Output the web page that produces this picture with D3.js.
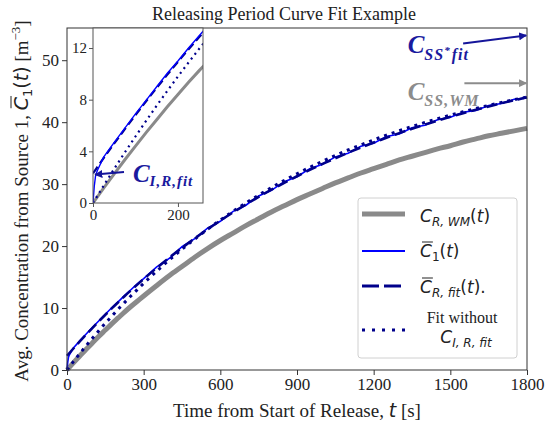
<!DOCTYPE html>
<html>
<head>
<meta charset="utf-8">
<script src="https://cdn.jsdelivr.net/npm/d3@7"></script>
<style>
body { margin: 0; background: #fff; }
text { fill: #222; }
</style>
</head>
<body>
<div id="chart"></div>
<script>
// time grid (s) shared by the smooth curves
var tGrid = [0,25,50,75,100,125,150,175,200,225,250,275,300,
  350,400,450,500,550,600,650,700,750,800,
  850,900,950,1000,1050,1100,1150,1200,1250,1300,
  1350,1400,1450,1500,1550,1600,1650,1700,1750,1800];

// well-mixed concentration C_R,WM(t)
var cWM = [0,1.15,2.25,3.35,4.4,5.45,6.45,7.45,8.4,9.35,10.25,11.1,11.95,
  13.6,15.2,16.7,18.2,19.6,20.9,22.1,23.3,24.4,25.5,
  26.5,27.5,28.4,29.3,30.2,31.0,31.8,32.5,33.2,33.9,
  34.5,35.1,35.7,36.2,36.8,37.3,37.8,38.2,38.6,39.0];

// fitted curve C_R,fit(t)
var cFit = [2.3,3.47,4.61,5.72,6.81,7.88,8.92,9.94,10.93,11.91,12.85,13.78,14.69,
  16.44,18.12,19.72,21.25,22.72,24.11,25.45,26.72,27.94,29.10,
  30.21,31.27,32.29,33.26,34.18,35.07,35.91,36.72,37.49,38.23,
  38.93,39.60,40.25,40.86,41.45,42.01,42.54,43.05,43.54,44.01];

// fit without C_I,R,fit
var cFitNoI = [0,1.34,2.65,3.92,5.15,6.36,7.54,8.68,9.80,10.88,11.94,12.97,13.98,
  15.91,17.75,19.49,21.14,22.71,24.20,25.62,26.96,28.23,29.44,
  30.59,31.68,32.71,33.69,34.62,35.51,36.34,37.14,37.90,38.62,
  39.30,39.94,40.55,41.14,41.69,42.21,42.71,43.18,43.63,44.05];

// measured average C1(t)
var tC1 = [0,3,6,10,25,50,75,100,125,150,175,200,225,250,275,300,
  350,400,450,500,550,600,650,700,750,800,850,900,950,1000,
  1050,1100,1150,1200,1250,1300,1350,1400,1450,1500,1550,1600,1650,1700,1750,1800];
var c1 = [0,1.3,2.1,2.5,3.55,4.7,5.8,6.9,7.95,9.0,10.05,11.0,12.0,12.95,13.9,14.75,
  16.6,18.0,19.9,21.2,22.9,24.0,25.6,26.6,28.1,29.0,30.4,31.2,32.5,33.2,
  34.4,35.0,36.1,36.6,37.7,38.1,39.1,39.5,40.4,40.8,41.6,41.9,42.7,43.0,43.7,43.9];

var xTicks = [0,300,600,900,1200,1500,1800];
var yTicks = [0,10,20,30,40,50];
var xTicksInset = [0,200];
var yTicksInset = [0,4,8,12];

var cssFit = 54.0;   // C_SS*fit
var cssWM = 46.3;    // C_SS,WM
var ciFit = 2.2;     // C_I,R,fit

var width = 545, height = 425;
var margin = {top: 28, right: 18, bottom: 55, left: 67};

var svg = d3.select("#chart").append("svg")
    .attr("width", width)
    .attr("height", height);

var defs = svg.append("defs");
function arrowHead(id, color) {
    defs.append("marker")
        .attr("id", id)
        .attr("viewBox", "0 0 10 10")
        .attr("refX", 9).attr("refY", 5)
        .attr("markerWidth", 4).attr("markerHeight", 4)
        .attr("orient", "auto")
        .append("path")
        .attr("d", "M0,0L10,5L0,10z")
        .attr("fill", color);
}
arrowHead("arrNavy", "#15159a");
arrowHead("arrGray", "#8c8c8c");

var x = d3.scaleLinear().domain([0, 1800]).range([margin.left, width - margin.right]);
var y = d3.scaleLinear().domain([0, 55.2]).range([height - margin.bottom, margin.top]);

var serif = "'Liberation Serif', 'Times New Roman', serif";
var sans = "'DejaVu Sans', sans-serif";

function seriesPts(ts, vs) {
    return ts.map(function(t, i) { return [t, vs[i]]; });
}

// ---- main axes
var xAxis = svg.append("g")
    .attr("transform", "translate(0," + y(0) + ")")
    .call(d3.axisBottom(x).tickValues(xTicks).tickFormat(d3.format("d"))
        .tickSize(5).tickSizeOuter(0).tickPadding(3));
var yAxis = svg.append("g")
    .attr("transform", "translate(" + x(0) + ",0)")
    .call(d3.axisLeft(y).tickValues(yTicks).tickSize(5).tickSizeOuter(0).tickPadding(3));
[xAxis, yAxis].forEach(function(a) {
    a.select(".domain").remove();
    a.selectAll("line").attr("stroke", "#333");
    a.selectAll("text").style("font-family", serif).style("font-size", "17px").attr("fill", "#222");
});

var main = svg.append("g");
var line = d3.line()
    .x(function(d) { return x(d[0]); })
    .y(function(d) { return y(d[1]); });
var smooth = d3.line()
    .x(function(d) { return x(d[0]); })
    .y(function(d) { return y(d[1]); })
    .curve(d3.curveMonotoneX);

main.append("path").datum(seriesPts(tGrid, cWM))
    .attr("d", smooth).attr("fill", "none")
    .attr("stroke", "#8a8a8a").attr("stroke-width", 5);
main.append("path").datum(seriesPts(tC1, c1))
    .attr("d", line).attr("fill", "none")
    .attr("stroke", "#0000ff").attr("stroke-width", 1.6);
main.append("path").datum(seriesPts(tGrid, cFit))
    .attr("d", smooth).attr("fill", "none")
    .attr("stroke", "#00008b").attr("stroke-width", 2.6)
    .attr("stroke-dasharray", "11,5");
main.append("path").datum(seriesPts(tGrid, cFitNoI))
    .attr("d", smooth).attr("fill", "none")
    .attr("stroke", "#00008b").attr("stroke-width", 3)
    .attr("stroke-dasharray", "3,5");

svg.append("rect")
    .attr("x", x(0)).attr("y", y(55.2))
    .attr("width", x(1800) - x(0)).attr("height", y(0) - y(55.2))
    .attr("fill", "none").attr("stroke", "#333").attr("stroke-width", 1);

// ---- steady-state arrows and labels
svg.append("line")
    .attr("x1", x(1550)).attr("y1", y(52.7))
    .attr("x2", x(1797)).attr("y2", y(cssFit))
    .attr("stroke", "#15159a").attr("stroke-width", 2)
    .attr("marker-end", "url(#arrNavy)");
svg.append("line")
    .attr("x1", x(1555)).attr("y1", y(cssWM))
    .attr("x2", x(1797)).attr("y2", y(cssWM))
    .attr("stroke", "#8c8c8c").attr("stroke-width", 2)
    .attr("marker-end", "url(#arrGray)");

function annot(px, py, sub, color, star) {
    var t = svg.append("text")
        .attr("x", px).attr("y", py)
        .style("font-family", serif).style("font-style", "italic")
        .style("font-weight", "bold").style("fill", color);
    t.append("tspan").style("font-size", "25px").text("C");
    if (star) {
        t.append("tspan").style("font-size", "16px").attr("dy", 7).attr("letter-spacing", 1).text("SS");
        t.append("tspan").style("font-size", "11px").attr("dy", -6).text("*");
        t.append("tspan").style("font-size", "16px").attr("dy", 6).attr("dx", 2).attr("letter-spacing", 1).text("fit");
    } else {
        t.append("tspan").style("font-size", "16px").attr("dy", 6).attr("letter-spacing", 1).text(sub);
    }
}
annot(x(1333), y(51.2), "", "#1a1a9e", true);
annot(x(1333), y(43.5), "SS,WM", "#8c8c8c", false);

// ---- legend
var lg = svg.append("g");
lg.append("rect")
    .attr("x", 358).attr("y", 198).attr("width", 159).attr("height", 160)
    .attr("rx", 3).attr("fill", "#fff").attr("fill-opacity", 0.9)
    .attr("stroke", "#d0d0d0");

var legendRows = [
    {y: 214, color: "#8a8a8a", w: 5, dash: null},
    {y: 251, color: "#0000ff", w: 2, dash: null},
    {y: 286, color: "#00008b", w: 3, dash: "17,5"},
    {y: 330, color: "#00008b", w: 3, dash: "3,7"}
];
legendRows.forEach(function(r) {
    lg.append("line")
        .attr("x1", 362).attr("x2", 405).attr("y1", r.y).attr("y2", r.y)
        .attr("stroke", r.color).attr("stroke-width", r.w)
        .attr("stroke-dasharray", r.dash);
});

function mathText(g, px, py, c, sub, tail, bar, anchor) {
    var t = g.append("text").attr("x", px).attr("y", py)
        .attr("text-anchor", anchor || "start")
        .style("font-family", sans).style("font-size", "17px");
    t.append("tspan").style("font-style", "italic").text(c);
    t.append("tspan").style("font-size", "12px").style("font-style", sub.italic ? "italic" : "normal")
        .attr("dy", 4).text(sub.text);
    if (tail) {
        t.append("tspan").attr("dy", -4).text("(");
        t.append("tspan").style("font-style", "italic").text("t");
        t.append("tspan").text(tail);
    }
    if (bar) {
        var b = t.node().getExtentOfChar(0);
        g.append("line")
            .attr("x1", b.x + 2).attr("x2", b.x + b.width + 1)
            .attr("y1", py - 15).attr("y2", py - 15)
            .attr("stroke", "#222").attr("stroke-width", 1);
    }
    return t;
}
mathText(lg, 420, 222, "C", {text: "R, WM", italic: true}, ")", false);
mathText(lg, 420, 257, "C", {text: "1", italic: false}, ")", true);
mathText(lg, 420, 293, "C", {text: "R, fit", italic: true}, ").", true);
lg.append("text").attr("x", 462).attr("y", 323).attr("text-anchor", "middle")
    .style("font-family", serif).style("font-size", "16px").text("Fit without");
mathText(lg, 466, 343, "C", {text: "I, R, fit", italic: true}, null, false, "middle");

// ---- inset
var xi = d3.scaleLinear().domain([0, 259]).range([93, 203]);
var yi = d3.scaleLinear().domain([0, 13.55]).range([203, 28]);

var inset = svg.append("g");
inset.append("rect")
    .attr("x", xi(0)).attr("y", yi(13.55))
    .attr("width", xi(259) - xi(0)).attr("height", yi(0) - yi(13.55))
    .attr("fill", "#fff");

defs.append("clipPath").attr("id", "insetClip")
    .append("rect")
    .attr("x", xi(0)).attr("y", yi(13.55))
    .attr("width", xi(259) - xi(0)).attr("height", yi(0) - yi(13.55));

var lineI = d3.line()
    .x(function(d) { return xi(d[0]); })
    .y(function(d) { return yi(d[1]); });

var ic = inset.append("g").attr("clip-path", "url(#insetClip)");
ic.append("path").datum(seriesPts(tGrid, cWM))
    .attr("d", lineI).attr("fill", "none")
    .attr("stroke", "#8a8a8a").attr("stroke-width", 3);
ic.append("path").datum(seriesPts(tGrid, cFitNoI))
    .attr("d", lineI).attr("fill", "none")
    .attr("stroke", "#00008b").attr("stroke-width", 2.2)
    .attr("stroke-dasharray", "2,4");
ic.append("path").datum(seriesPts(tGrid, cFit))
    .attr("d", lineI).attr("fill", "none")
    .attr("stroke", "#00008b").attr("stroke-width", 2.2)
    .attr("stroke-dasharray", "8,4");
ic.append("path").datum(seriesPts(tC1, c1))
    .attr("d", lineI).attr("fill", "none")
    .attr("stroke", "#0000ff").attr("stroke-width", 1.4);

inset.append("rect")
    .attr("x", xi(0)).attr("y", yi(13.55))
    .attr("width", xi(259) - xi(0)).attr("height", yi(0) - yi(13.55))
    .attr("fill", "none").attr("stroke", "#555").attr("stroke-width", 1);

var xiAxis = inset.append("g")
    .attr("transform", "translate(0," + yi(0) + ")")
    .call(d3.axisBottom(xi).tickValues(xTicksInset).tickSize(4).tickSizeOuter(0).tickPadding(2));
var yiAxis = inset.append("g")
    .attr("transform", "translate(" + xi(0) + ",0)")
    .call(d3.axisLeft(yi).tickValues(yTicksInset).tickSize(4).tickSizeOuter(0).tickPadding(2));
[xiAxis, yiAxis].forEach(function(a) {
    a.select(".domain").remove();
    a.selectAll("line").attr("stroke", "#555");
    a.selectAll("text").style("font-family", serif).style("font-size", "15px").attr("fill", "#222");
});

// C_I,R,fit arrow + label
svg.append("line")
    .attr("x1", xi(73)).attr("y1", yi(2.4))
    .attr("x2", xi(5)).attr("y2", yi(ciFit))
    .attr("stroke", "#15159a").attr("stroke-width", 2)
    .attr("marker-end", "url(#arrNavy)");
var tci = svg.append("text")
    .attr("x", xi(94)).attr("y", yi(1.6))
    .style("font-family", serif).style("font-style", "italic")
    .style("font-weight", "bold").style("fill", "#1a1a9e");
tci.append("tspan").style("font-size", "25px").text("C");
tci.append("tspan").style("font-size", "15px").attr("dy", 4).attr("letter-spacing", 1).text("I,R,fit");

// ---- titles
svg.append("text")
    .attr("x", 284).attr("y", 20).attr("text-anchor", "middle")
    .style("font-family", serif).style("font-size", "18px")
    .text("Releasing Period Curve Fit Example");

var xl = svg.append("text")
    .attr("x", (x(0) + x(1800)) / 2).attr("y", 417).attr("text-anchor", "middle")
    .style("font-family", serif).style("font-size", "19px");
xl.append("tspan").text("Time from Start of Release, ");
xl.append("tspan").style("font-family", sans).style("font-style", "italic").text("t");
xl.append("tspan").text(" [s]");

var ylG = svg.append("g").attr("transform", "translate(28,201) rotate(-90)");
var ylab = ylG.append("text")
    .attr("x", 0).attr("y", 0).attr("text-anchor", "middle")
    .style("font-family", serif).style("font-size", "19px");
var prefix = "Avg. Concentration from Source 1, ";
ylab.append("tspan").text(prefix);
ylab.append("tspan").style("font-family", sans).style("font-style", "italic").text("C");
ylab.append("tspan").style("font-family", sans).style("font-size", "13px").attr("dy", 4).text("1");
ylab.append("tspan").style("font-family", sans).attr("dy", -4).text("(");
ylab.append("tspan").style("font-family", sans).style("font-style", "italic").text("t");
ylab.append("tspan").style("font-family", sans).text(")");
ylab.append("tspan").text(" [m");
ylab.append("tspan").style("font-size", "13px").attr("dy", -8).text("\u22123");
ylab.append("tspan").attr("dy", 8).text("]");
var cb = ylab.node().getExtentOfChar(prefix.length);
ylG.append("line")
    .attr("x1", cb.x + 2).attr("x2", cb.x + cb.width + 1)
    .attr("y1", -17).attr("y2", -17)
    .attr("stroke", "#222").attr("stroke-width", 1);
</script>
</body>
</html>
